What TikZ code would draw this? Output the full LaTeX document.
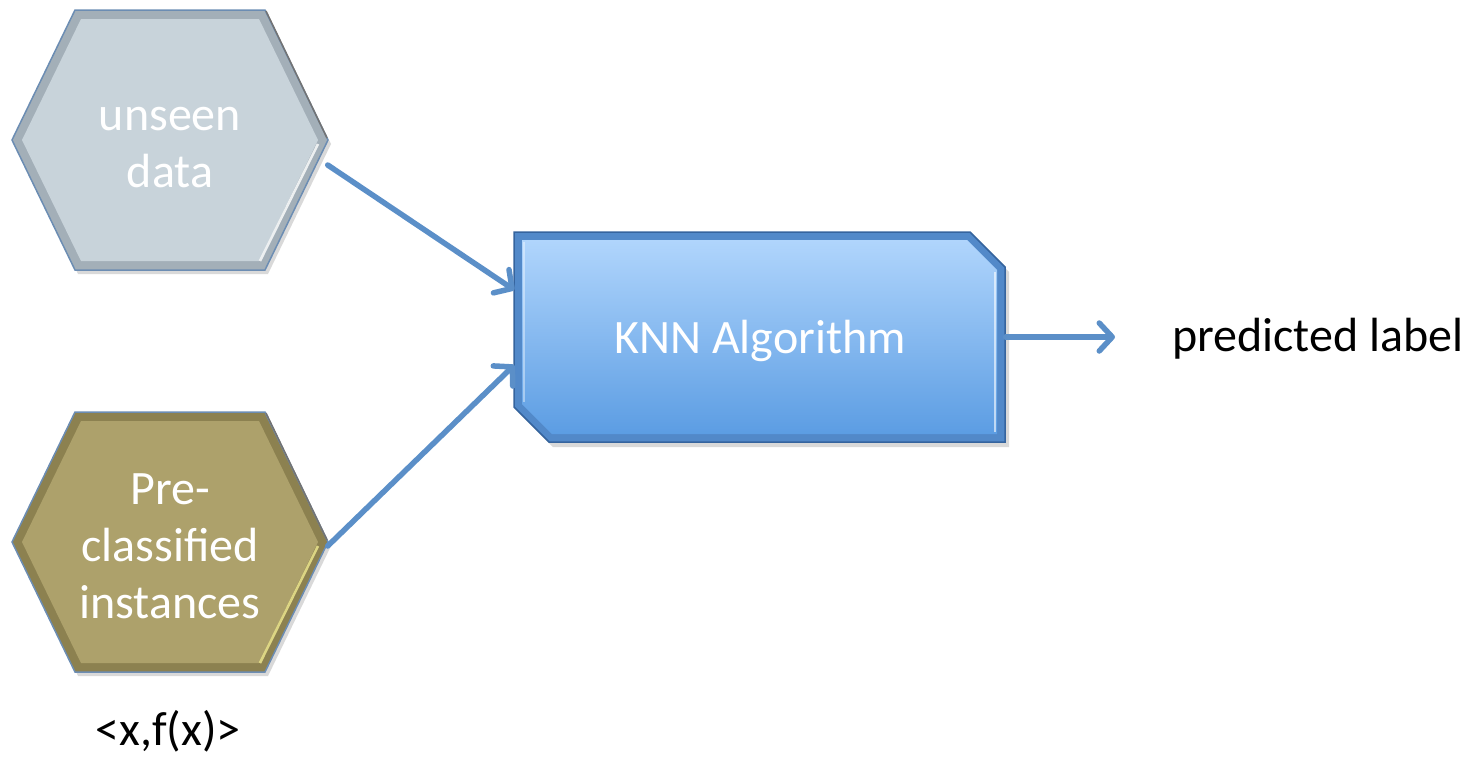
\documentclass[tikz,border=0pt]{standalone}
\usepackage{fontspec}
\setmainfont{Carlito}
\usetikzlibrary{arrows.meta}

\definecolor{flowblue}{HTML}{5B8FC8}
\definecolor{greyface}{HTML}{C8D3DA}
\definecolor{greyrim}{HTML}{A3AFB8}
\definecolor{khakiface}{HTML}{ADA16B}
\definecolor{khakirim}{HTML}{8C8150}
\definecolor{hexline}{HTML}{6C8DB3}
\definecolor{boxtop}{HTML}{B0D5FC}
\definecolor{boxbottom}{HTML}{5C9DE3}
\definecolor{boxrim}{HTML}{5289C9}
\definecolor{boxline}{HTML}{35649E}

\begin{document}
\begin{tikzpicture}[x=1pt,y=-1pt,
    bigtext/.style={font=\fontsize{48}{57}\selectfont},
    hexnode/.style={bigtext, minimum width=315pt, minimum height=260pt, align=center, text=white, inner sep=0pt},
    flow/.style={flowblue, line width=5.5pt, line cap=round,
      -{Straight Barb[length=13pt, width=28pt, round]}},
    dropshadow/.style={black, opacity=0.15}]
  \useasboundingbox (0,0) rectangle (1474,758);

  % unseen data hexagon
  \begin{scope}[shift={(170,140)}]
    \fill[dropshadow] (-155,4) -- (-92,-126) -- (98,-126) -- (161,4) -- (98,134) -- (-92,134) -- cycle;
    \filldraw[draw=hexline, line width=1.5pt, fill=greyrim] (-158,0) -- (-95,-130) -- (95,-130) -- (158,0) -- (95,130) -- (-95,130) -- cycle;
    \fill[greyface] (-148,0) -- (-89,-121) -- (89,-121) -- (148,0) -- (89,121) -- (-89,121) -- cycle;
    \draw[white, line width=2.5pt, opacity=0.8] (148,4) -- (90,121);
    \draw[black!55, line width=1.5pt] (96,-129) -- (157,-2);
  \end{scope}
  \node[hexnode] (unseen) at (170,148) {unseen\\data};

  % pre-classified hexagon
  \begin{scope}[shift={(170,542)}]
    \fill[dropshadow] (-155,4) -- (-92,-126) -- (98,-126) -- (161,4) -- (98,134) -- (-92,134) -- cycle;
    \filldraw[draw=hexline, line width=1.5pt, fill=khakirim] (-158,0) -- (-95,-130) -- (95,-130) -- (158,0) -- (95,130) -- (-95,130) -- cycle;
    \fill[khakiface] (-148,0) -- (-89,-121) -- (89,-121) -- (148,0) -- (89,121) -- (-89,121) -- cycle;
    \draw[yellow!40!white, line width=2.5pt, opacity=0.7] (148,4) -- (90,121);
    \draw[black!55, line width=1.5pt] (96,-129) -- (157,-2);
  \end{scope}
  \node[hexnode] (known) at (170,546) {Pre-\\classified\\instances};
  \node[bigtext] (pair) at (168,731) {<x,f(x)>};

  % algorithm box
  \fill[dropshadow] (518,237) -- (974,237) -- (1009,272) -- (1009,447) -- (553,447) -- (518,412) -- cycle;
  \filldraw[draw=boxline, line width=1.5pt, fill=boxrim] (514,232) -- (970,232) -- (1005,267) -- (1005,442) -- (549,442) -- (514,407) -- cycle;
  \shade[top color=boxtop, bottom color=boxbottom] (522,240) -- (967,240) -- (997,270) -- (997,434) -- (552,434) -- (522,404) -- cycle;
  \draw[white, line width=2pt, opacity=0.6] (995,272) -- (995,432);
  \draw[white, line width=2pt, opacity=0.4] (524,242) -- (524,402);
  \node[bigtext, text=white, minimum width=491pt, minimum height=210pt, inner sep=0pt] (knn) at (760,341) {KNN Algorithm};

  \node[bigtext, anchor=west, inner sep=0pt] (pred) at (1172,339) {predicted label};

  \draw[flow] ([yshift=-17pt]unseen.east) -- ([yshift=51pt]knn.west);
  \draw[flow] (known.east) -- ([yshift=-24pt]knn.west);
  \draw[flow] ([yshift=4pt]knn.east) -- ([xshift=-57pt, yshift=2pt]pred.west);
\end{tikzpicture}
\end{document}
